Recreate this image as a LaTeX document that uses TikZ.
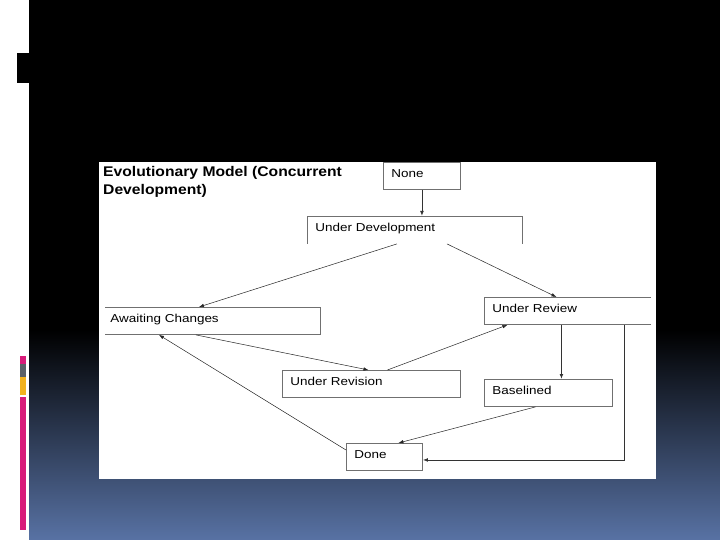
\documentclass[tikz,border=0pt]{standalone}
\usepackage{fontspec}
\usepackage{tikz}
\usetikzlibrary{arrows}
\usetikzlibrary{arrows.meta}
\usetikzlibrary{positioning}
\setmainfont{Liberation Sans}
\newfontfamily\boxfont[FakeStretch=1.17]{Liberation Sans}
\newfontfamily\titlefont[FakeStretch=1.12]{Liberation Sans}
\definecolor{slideBlue}{HTML}{5872A4}
\definecolor{barMagenta}{HTML}{D81B7A}
\definecolor{barGrey}{HTML}{5A6068}
\definecolor{barYellow}{HTML}{F2B21E}
\definecolor{boxLine}{HTML}{707070}

\begin{document}
\begin{tikzpicture}[x=1pt,y=-1pt]
\tikzset{StateBox/.style={
  draw=boxLine,
  line width=0.9pt,
  rectangle,
  anchor=north west,
  align=left,
  text width=#1,
  inner xsep=8pt,
  inner ysep=4pt,
  text height=11pt,
  text depth=8pt,
  font=\boxfont\fontsize{11.5}{13}\selectfont
}}
\tikzset{OpenBox/.style={StateBox=#1, draw=none}}
\tikzset{BoxLine/.style={draw=boxLine, line width=0.9pt}}
\tikzset{Flow/.style={-{Latex[length=5pt,width=3.6pt]}, line width=0.5pt, draw=black!85}}
\tikzset{MainFlow/.style={-{Latex[length=5pt,width=3.8pt]}, line width=0.9pt, draw=black!80}}

\useasboundingbox (0,0) rectangle (720,540);

% slide background
\fill[white] (0,0) rectangle (29,540);
\fill[black] (29,0) rectangle (720,330);
\shade[top color=black, bottom color=slideBlue] (29,330) rectangle (720,540);
\fill[black] (17,53) rectangle (29,83);
\fill[barMagenta] (20,356) rectangle (26,364);
\fill[barGrey] (20,364) rectangle (26,377);
\fill[barYellow] (20,377) rectangle (26,395);
\fill[barMagenta] (20,397) rectangle (26,530);

% diagram panel
\fill[white] (99,162) rectangle (656,479);

\node[anchor=north west, align=left, inner sep=0pt,
      font=\titlefont\bfseries\fontsize{14}{18}\selectfont] (title) at (103,166)
      {Evolutionary Model (Concurrent\\Development)};

\node[StateBox=61pt] (none) at (383,162) {None};
\node[OpenBox=199pt] (dev) at (307,216) {Under Development};
\node[OpenBox=205pt, inner xsep=5pt] (await) at (105,307) {Awaiting Changes};
\node[OpenBox=150pt] (review) at (484,297) {Under Review};
\node[StateBox=162pt] (revision) at (282,370) {Under Revision};
\node[StateBox=112pt] (base) at (484,379) {Baselined};
\node[StateBox=60pt] (done) at (346,443) {Done};

% open sides
\draw[BoxLine] (dev.south west) -- (dev.north west) -- (dev.north east) -- (dev.south east);
\draw[BoxLine] (await.north west) -- (await.north east) -- (await.south east) -- (await.south west);
\draw[BoxLine] (review.north east) -- (review.north west) -- (review.south west) -- (review.south east);

% transitions
\draw[MainFlow] (none.south) -- (none.south |- dev.north);
\draw[Flow] ([xshift=-18pt]dev.south) -- ([xshift=-14pt]await.north);
\draw[Flow] ([xshift=32pt]dev.south) -- ([xshift=-11pt]review.north);
\draw[Flow] ([xshift=-17pt]await.south) -- ([xshift=-3pt]revision.north);
\draw[Flow] ([xshift=16pt]revision.north) -- ([xshift=-60pt]review.south);
\draw[MainFlow] ([xshift=-6pt]review.south) -- ([xshift=-6pt]review.south |- base.north);
\draw[Flow] ([xshift=-13pt]base.south) -- ([xshift=14pt]done.north);
\draw[Flow] ([yshift=-7pt]done.north west) -- ([xshift=-54pt]await.south);
\draw[MainFlow] ([xshift=57pt]review.south) |- ([yshift=-3pt]done.east);
\end{tikzpicture}
\end{document}
